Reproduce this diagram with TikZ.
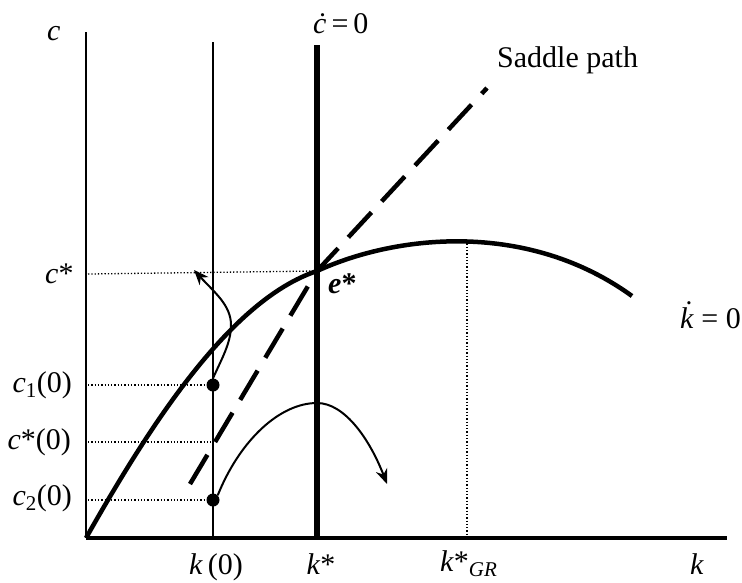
\documentclass[tikz,border=0pt]{standalone}
\usepackage{fontspec}
\setmainfont{Liberation Serif}
\usetikzlibrary{arrows.meta}
\newcommand\kdotsym{\ooalign{\textit{k}\cr\hidewidth\raisebox{0.22em}{\textit{\char"02D9}}\hidewidth\cr}}
\tikzset{
  lbl/.style={font=\fontsize{30}{32}\selectfont, inner sep=0pt},
  thinax/.style={line width=1.3pt},
  guide/.style={line width=1.3pt, dotted},
  flow/.style={line width=2pt, -{Stealth[length=15pt,width=12pt]}},
  dotmark/.style={circle, fill=black, minimum size=13pt, inner sep=0pt}
}
\begin{document}
\begin{tikzpicture}[x=1pt,y=-1pt]
\useasboundingbox (0,0) rectangle (742,582);
% coordinates
\coordinate (O) at (86,538);
\coordinate (ytop) at (86,32);
\coordinate (xend) at (727,538);
\coordinate (k0top) at (213,42);
\coordinate (k0bot) at (213,538);
\coordinate (cdtop) at (317,45);
\coordinate (cdbot) at (317,538);
\coordinate (E) at (317,271);
\coordinate (peak) at (467,240);
\coordinate (peakbot) at (467,538);
\coordinate (sp1) at (190,484);
\coordinate (sp2) at (487,88);
% axes
\draw[thinax] (ytop) -- (O);
\draw[line width=3.5pt] (O) -- (xend);
\draw[thinax] (k0top) -- (k0bot);
\draw[line width=6pt] (cdtop) -- (cdbot);
% dots
\node[dotmark] (d1) at (213,385) {};
\node[dotmark] (d2) at (213,500) {};
% guides
\coordinate (cs) at (88,274);
\coordinate (c1) at (88,385);
\coordinate (c0) at (88,442);
\coordinate (c2) at (88,500);
\coordinate (c0r) at (213,442);
\draw[guide] (cs) -- (E);
\draw[guide] (c1) -- (d1);
\draw[guide] (c0) -- (c0r);
\draw[guide] (c2) -- (d2);
\draw[guide] (peak) -- (peakbot);
% kdot=0 curve
\draw[line width=4.5pt] (O) .. controls (150,425) and (230,300) .. (E)
  .. controls (400,233) and (530,222) .. (632,296);
% saddle path
\draw[line width=4.5pt, dash pattern=on 34pt off 15pt] (sp1) -- (E) -- (sp2);
% flow arrows
\draw[flow] (d1.north) .. controls (222,358) and (231,343) .. (231,325)
   .. controls (231,305) and (214,292) .. (194,270);
\draw[flow] (d2.north east) .. controls (240,440) and (280,403) .. (317,403)
   .. controls (345,403) and (370,440) .. (387,484);
% labels
\node[lbl, anchor=base west] (lc) at (47,40) {\textit{c}};
\node[lbl, anchor=base west] (lcdot) at (313,33) {\textit{ċ}\,=\,0};
\node[lbl, anchor=base west] (lsp) at (497,67) {Saddle path};
\node[lbl, anchor=base west] (lkdot) at (680,328) {\kdotsym\ = 0};
\node[lbl, anchor=base west] (le) at (328,293) {\textbf{\textit{e}*}};
\node[lbl, anchor=base west] (lcs) at (45,283) {\textit{c}*};
\node[lbl, anchor=east] (lc1) at (72,385) {\textit{c}\textsubscript{1}(0)};
\node[lbl, anchor=east] (lc0) at (71,442) {\textit{c}*(0)};
\node[lbl, anchor=east] (lc2) at (72,498) {\textit{c}\textsubscript{2}(0)};
\node[lbl, anchor=base] (lk0) at (216,574) {\textit{k}\,(0)};
\node[lbl, anchor=base] (lks) at (321,574) {\textit{k}*};
\node[lbl, anchor=base west] (lkgr) at (440,571) {\textit{k}*\textsubscript{\textit{GR}}};
\node[lbl, anchor=base west] (lk) at (690,574) {\textit{k}};
\end{tikzpicture}
\end{document}
